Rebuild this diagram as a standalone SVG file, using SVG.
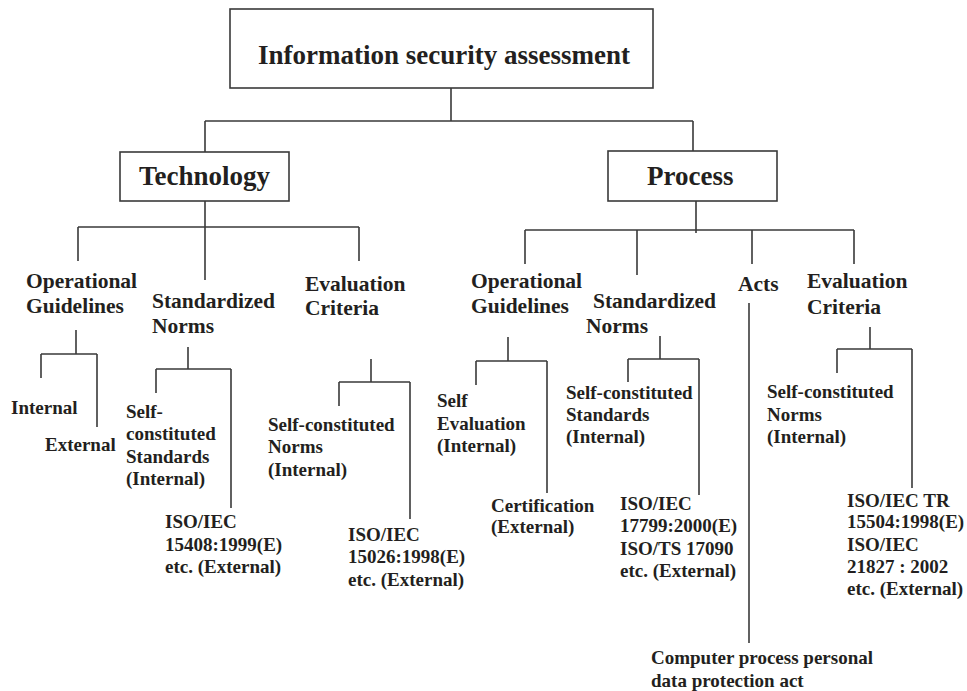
<svg xmlns="http://www.w3.org/2000/svg" width="967" height="691" viewBox="0 0 967 691">
  <style>
    .box { fill: #ffffff; stroke: #3a3a3a; stroke-width: 1.6; }
    .wire { fill: none; stroke: #3a3a3a; stroke-width: 1.6; }
    text { font-family: "Liberation Serif", "Times New Roman", serif; font-weight: bold; fill: #231f20; }
    .t1 { font-size: 27px; }
    .t2 { font-size: 21.5px; }
    .t3 { font-size: 19px; }
  </style>
  <rect width="967" height="691" fill="#ffffff"/>

  <g id="connectors">
    <path class="wire" d="M451,88 V121 M205,121 H693 M205,121 V152 M693,121 V151"/>
    <path class="wire" d="M205,201 V227 M78,227 H359 M78,227 V261 M205,227 V280 M359,227 V261"/>
    <path class="wire" d="M696,201 V233 M525,230 H854 M525,230 V264 M637,230 V275 M752,230 V264 M854,230 V264"/>
    <path class="wire" d="M76,330 V354 M41,354 H97 M41,354 V378 M97,354 V427"/>
    <path class="wire" d="M188,347 V369 M156,369 H231 M156,369 V393 M231,369 V508"/>
    <path class="wire" d="M371,359 V382 M339,382 H410 M339,382 V406 M410,382 V519"/>
    <path class="wire" d="M508,337 V361 M476,361 H547 M476,361 V385 M547,361 V493"/>
    <path class="wire" d="M660,336 V359 M628,359 H699 M628,359 V382 M699,359 V495"/>
    <path class="wire" d="M749,303 V643"/>
    <path class="wire" d="M870,327 V349 M837,349 H912 M837,349 V373 M912,349 V488"/>
  </g>

  <g id="root">
    <rect class="box" x="230" y="9" width="423" height="79"/>
    <text class="t1" x="258" y="64">Information security assessment</text>
  </g>
  <g id="technology">
    <rect class="box" x="120" y="152" width="169" height="49"/>
    <text class="t1" x="139" y="185">Technology</text>
  </g>
  <g id="process">
    <rect class="box" x="608" y="151" width="169" height="50"/>
    <text class="t1" x="647" y="185">Process</text>
  </g>

  <!-- Technology branch -->
  <g id="tech-guidelines">
    <text class="t2"><tspan x="26" y="288">Operational</tspan><tspan x="26" y="313">Guidelines</tspan></text>
  </g>
  <g id="tech-norms">
    <text class="t2"><tspan x="152" y="308">Standardized</tspan><tspan x="152" y="333">Norms</tspan></text>
  </g>
  <g id="tech-criteria">
    <text class="t2"><tspan x="305" y="291">Evaluation</tspan><tspan x="305" y="315">Criteria</tspan></text>
  </g>
  <g id="tech-internal">
    <text class="t3" x="11" y="414">Internal</text>
  </g>
  <g id="tech-external">
    <text class="t3" x="45" y="451">External</text>
  </g>
  <g id="tech-self-standards">
    <text class="t3"><tspan x="126" y="418">Self-</tspan><tspan x="126" y="440">constituted</tspan><tspan x="126" y="463">Standards</tspan><tspan x="126" y="485">(Internal)</tspan></text>
  </g>
  <g id="tech-iso-15408">
    <text class="t3"><tspan x="165" y="528">ISO/IEC</tspan><tspan x="165" y="551">15408:1999(E)</tspan><tspan x="165" y="573">etc. (External)</tspan></text>
  </g>
  <g id="tech-self-norms">
    <text class="t3"><tspan x="268" y="431">Self-constituted</tspan><tspan x="268" y="453">Norms</tspan><tspan x="268" y="476">(Internal)</tspan></text>
  </g>
  <g id="tech-iso-15026">
    <text class="t3"><tspan x="348" y="541">ISO/IEC</tspan><tspan x="348" y="563">15026:1998(E)</tspan><tspan x="348" y="586">etc. (External)</tspan></text>
  </g>

  <!-- Process branch -->
  <g id="proc-guidelines">
    <text class="t2"><tspan x="471" y="288">Operational</tspan><tspan x="471" y="313">Guidelines</tspan></text>
  </g>
  <g id="proc-norms">
    <text class="t2"><tspan x="593" y="308">Standardized</tspan><tspan x="586" y="333">Norms</tspan></text>
  </g>
  <g id="proc-acts">
    <text class="t2" x="738" y="291">Acts</text>
  </g>
  <g id="proc-criteria">
    <text class="t2"><tspan x="807" y="288">Evaluation</tspan><tspan x="807" y="314">Criteria</tspan></text>
  </g>
  <g id="proc-self-evaluation">
    <text class="t3"><tspan x="437" y="407">Self</tspan><tspan x="437" y="430">Evaluation</tspan><tspan x="437" y="452">(Internal)</tspan></text>
  </g>
  <g id="proc-certification">
    <text class="t3"><tspan x="491" y="512">Certification</tspan><tspan x="491" y="533">(External)</tspan></text>
  </g>
  <g id="proc-self-standards">
    <text class="t3"><tspan x="566" y="399">Self-constituted</tspan><tspan x="566" y="421">Standards</tspan><tspan x="566" y="443">(Internal)</tspan></text>
  </g>
  <g id="proc-iso-17799">
    <text class="t3"><tspan x="620" y="510">ISO/IEC</tspan><tspan x="620" y="532">17799:2000(E)</tspan><tspan x="620" y="555">ISO/TS 17090</tspan><tspan x="620" y="577">etc. (External)</tspan></text>
  </g>
  <g id="proc-data-protection-act">
    <text class="t3"><tspan x="651" y="664">Computer process personal</tspan><tspan x="651" y="687">data protection act</tspan></text>
  </g>
  <g id="proc-self-norms">
    <text class="t3"><tspan x="767" y="398">Self-constituted</tspan><tspan x="767" y="421">Norms</tspan><tspan x="767" y="443">(Internal)</tspan></text>
  </g>
  <g id="proc-iso-15504">
    <text class="t3"><tspan x="847" y="507">ISO/IEC TR</tspan><tspan x="847" y="528">15504:1998(E)</tspan><tspan x="847" y="551">ISO/IEC</tspan><tspan x="847" y="573">21827 : 2002</tspan><tspan x="847" y="595">etc. (External)</tspan></text>
  </g>
</svg>
